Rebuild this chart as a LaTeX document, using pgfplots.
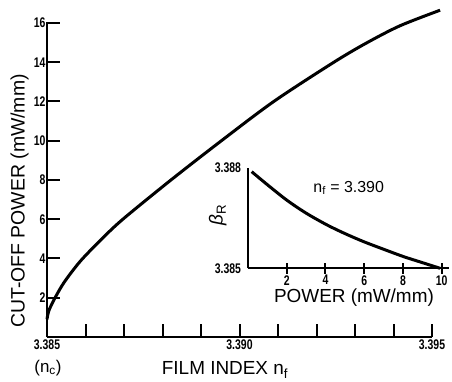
\documentclass[border=0pt]{standalone}
\usepackage{fontspec}
\setmainfont{Liberation Sans}
\newfontfamily\tickfont{Liberation Sans Bold}[FakeStretch=0.75]
\usepackage{pgfplots}
\pgfplotsset{compat=1.18}
\begin{document}
\begin{tikzpicture}
\begin{axis}[
  at={(0,0)}, anchor=south west,
  scale only axis, width=385bp, height=315bp,
  xmin=3.385, xmax=3.395, ymin=0, ymax=16.05,
  axis lines=left,
  axis line style={line width=2.2bp, -},
  clip=false,
  xtick={3.385,3.386,3.387,3.388,3.389,3.390,3.391,3.392,3.393,3.394,3.395},
  xticklabels={3.385,,,,,3.390,,,,,3.395},
  ytick={2,4,6,8,10,12,14,16},
  yticklabels={2,4,6,8,10,12,14,16},
  tick align=inside,
  major tick length=13bp,
  every tick/.style={line width=2bp, black},
  tick label style={font=\tickfont\fontsize{14}{14}\selectfont},
  yticklabel style={xshift=2bp},
  xticklabel style={yshift=1bp},
]
\addplot[black, line width=3bp, smooth] coordinates {
(3.38500,0.9) (3.38505,1.35) (3.38521,2.0) (3.38545,2.8) (3.38586,3.85)
(3.38635,4.85) (3.38694,5.95) (3.38822,8.0) (3.38953,10.0) (3.39089,12.0)
(3.39241,13.95) (3.39327,14.95) (3.39416,15.85) (3.39521,16.65)
};
\node[font=\fontsize{17}{17}\selectfont] at (axis cs:3.385,0) [yshift=-31bp, xshift=1bp] {(n\textsubscript{c})};
\end{axis}
\node[rotate=90, font=\fontsize{19.5}{19.5}\selectfont] at (-27.5bp,136bp) {CUT-OFF POWER (mW/mm)};
\node[font=\fontsize{19}{19}\selectfont] at (178bp,-33bp) {FILM INDEX n\textsubscript{f}};
\begin{axis}[
  at={(201bp,68.7bp)}, anchor=south west,
  scale only axis, width=201.4bp, height=100.3bp,
  xmin=0, xmax=10.4, ymin=3.385, ymax=3.388,
  axis lines=left,
  axis line style={line width=2.2bp, -},
  clip=false,
  xtick={2,4,6,8,10},
  xticklabels={2,4,6,8,10},
  ytick={3.385,3.388},
  yticklabels={3.385,3.388},
  ytick style={draw=none},
  tick align=center,
  major tick length=11bp,
  xtick style={line width=2bp, black},
  tick label style={font=\tickfont\fontsize{14}{14}\selectfont},
  xticklabel style={yshift=2bp},
  yticklabel style={xshift=2bp},
]
\addplot[black, line width=3bp, smooth] coordinates {
(0.19,3.38789) (1.0,3.38750) (2.0,3.38704) (3.0,3.38665) (4.07,3.38630)
(5.0,3.38604) (5.96,3.38580) (7.0,3.38557) (8.03,3.38535) (9.0,3.38517) (9.92,3.38500)
};
\node[font=\fontsize{16}{16}\selectfont] at (axis cs:5.2,3.3874) {n\textsubscript{f} = 3.390};
\node[rotate=90, font=\fontsize{19}{19}\selectfont] at (axis description cs:-0.15,0.53) {{\itshape β}\textsubscript{R}};
\node[font=\fontsize{19}{19}\selectfont] at (axis description cs:0.526,0) [yshift=-29bp] {POWER (mW/mm)};
\end{axis}
\pgfresetboundingbox
\path (-47bp,-45bp) rectangle (405bp,337bp);
\end{tikzpicture}
\end{document}
